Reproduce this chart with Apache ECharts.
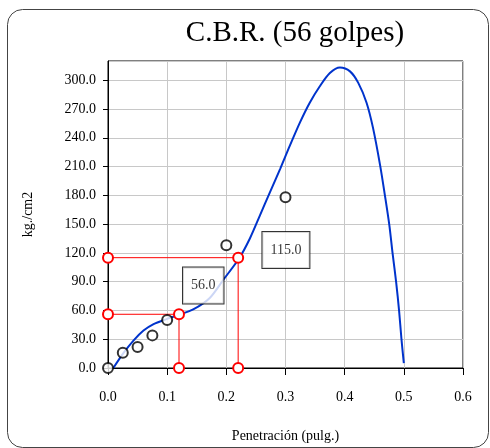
<!DOCTYPE html>
<html>
<head>
<meta charset="utf-8">
<script src="https://cdn.jsdelivr.net/npm/echarts@6/dist/echarts.min.js"></script>
<style>html,body{margin:0;padding:0;background:#fff;}#c{width:490px;height:448px;}</style>
</head>
<body>
<div id="c"></div>
<script>
// Measured test points (penetración, kg/cm2)
var testPoints = [[0,0],[0.025,16],[0.05,22],[0.075,34],[0.1,50],[0.2,128],[0.3,178]];
// Fitted curve
var curvePoints = [[0.009,0],[0.026,15.5],[0.043,28.6],[0.06,39],[0.077,45.8],[0.099,51],[0.12,55.5],[0.144,61],[0.172,73],[0.195,92],[0.222,114.7],[0.24,135.3],[0.257,159.4],[0.274,183.6],[0.291,207.6],[0.305,228.3],[0.3245,256],[0.341,276.5],[0.358,293.7],[0.375,307.5],[0.392,313.3],[0.409,309.2],[0.423,297.2],[0.437,276.5],[0.448,250],[0.46,211],[0.468,180],[0.4755,149],[0.481,119.5],[0.487,89.6],[0.492,59.6],[0.496,30],[0.5,5]];
// Reference lines at 0.1" and 0.2"
var ref01 = [[0,56],[0.12,56],[0.12,0]];
var ref02 = [[0,115],[0.22,115],[0.22,0]];
// Annotation boxes: [x, y, text]
var annotations = [[0.161,86,'56.0'],[0.3007,123,'115.0']];
var xTicks = {min:0, max:0.6, interval:0.1};
var yTicks = {min:0, max:320, interval:30};

var FONT = '"Liberation Serif", "Times New Roman", serif';
var chart = echarts.init(document.getElementById('c'), null, {renderer:'canvas'});
chart.setOption({
  animation:false,
  backgroundColor:'#fff',
  graphic:[
    {type:'rect', shape:{x:7.5,y:9.5,width:481,height:438,r:15}, style:{fill:'none',stroke:'#444',lineWidth:1}, z:-1},
    {type:'text', x:295, y:33, style:{text:'C.B.R. (56 golpes)', font:'29px '+FONT, fill:'#000', textAlign:'center', textVerticalAlign:'middle'}}
  ],
  grid:{left:108,right:27,top:61,bottom:77,show:true,borderColor:'#000',borderWidth:1},
  xAxis:{type:'value',min:xTicks.min,max:xTicks.max,interval:xTicks.interval,
    name:'Penetración (pulg.)',nameLocation:'middle',nameGap:61,
    nameTextStyle:{fontFamily:FONT,fontSize:14,color:'#000'},
    axisLine:{lineStyle:{color:'#000',width:1}},
    axisTick:{show:true,inside:false,length:7,lineStyle:{color:'#000'}},
    axisLabel:{fontFamily:FONT,fontSize:14,color:'#000',margin:22,formatter:function(v){return v.toFixed(1);}},
    splitLine:{show:true,lineStyle:{color:'#c8c8c8',width:1}}},
  yAxis:{type:'value',min:yTicks.min,max:yTicks.max,interval:yTicks.interval,
    name:'kg./cm2',nameLocation:'middle',nameGap:73,nameRotate:90,
    nameTextStyle:{fontFamily:FONT,fontSize:14,color:'#000'},
    axisLine:{show:true,lineStyle:{color:'#000',width:1}},
    axisTick:{show:true,inside:false,length:5,lineStyle:{color:'#000'}},
    axisLabel:{fontFamily:FONT,fontSize:14,color:'#000',margin:12,showMaxLabel:false,formatter:function(v){return v.toFixed(1);}},
    splitLine:{show:true,lineStyle:{color:'#c8c8c8',width:1}}},
  series:[
    {type:'line',data:curvePoints,smooth:0.3,symbol:'none',lineStyle:{color:'#0033cc',width:2},z:2},
    {type:'line',data:ref02,symbol:'emptyCircle',symbolSize:10,lineStyle:{color:'#ff0000',width:1},itemStyle:{color:'#ff0000',borderWidth:1.5},z:3},
    {type:'line',data:ref01,symbol:'emptyCircle',symbolSize:10,lineStyle:{color:'#ff0000',width:1},itemStyle:{color:'#ff0000',borderWidth:1.5},z:3},
    {type:'scatter',data:testPoints,symbol:'emptyCircle',symbolSize:10,itemStyle:{color:'#000',borderColor:'#000',borderWidth:2},z:4},
    {type:'scatter',data:annotations.map(function(a){return {value:[a[0],a[1]],name:a[2]};}),symbolSize:0,z:5,
      label:{show:true,position:'inside',formatter:function(p){return p.name;},fontFamily:FONT,fontSize:14,color:'#000',
        backgroundColor:'#fff',borderColor:'#000',borderWidth:1,padding:[11,8]}}
  ]
});
</script>
</body>
</html>
